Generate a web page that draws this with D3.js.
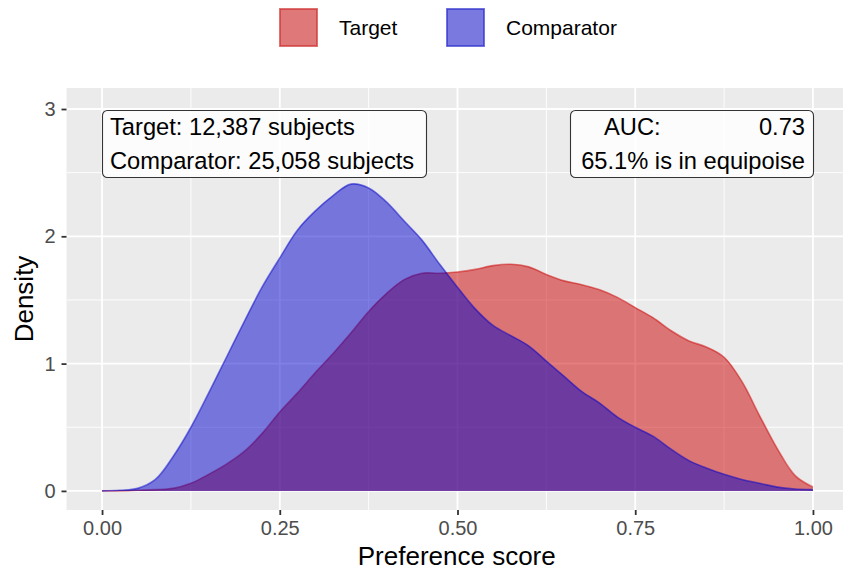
<!DOCTYPE html>
<html>
<head>
<meta charset="utf-8">
<script src="https://cdn.jsdelivr.net/npm/d3@7"></script>
<style>
  html, body { margin: 0; padding: 0; background: #ffffff; }
  svg text { font-family: "Liberation Sans", Arial, Helvetica, sans-serif; }
</style>
</head>
<body>
<svg id="chart" width="843" height="571"></svg>
<script>
// ---------------- data ----------------
const preferenceScores = [0.000,0.025,0.050,0.075,0.100,0.125,0.150,0.175,0.200,0.225,
  0.250,0.275,0.300,0.325,0.350,0.375,0.400,0.425,0.450,0.475,
  0.500,0.525,0.550,0.575,0.600,0.625,0.650,0.675,0.700,0.725,
  0.750,0.775,0.800,0.825,0.850,0.875,0.900,0.925,0.950,0.975,1.000];
const targetDensity = [0.00,0.00,0.005,0.01,0.02,0.06,0.13,0.21,0.31,0.45,
  0.62,0.77,0.93,1.08,1.24,1.41,1.55,1.66,1.71,1.71,
  1.72,1.74,1.77,1.78,1.76,1.70,1.65,1.62,1.58,1.52,
  1.44,1.36,1.26,1.18,1.13,1.05,0.86,0.59,0.33,0.12,0.03];
const comparatorDensity = [0.00,0.005,0.02,0.09,0.27,0.50,0.77,1.05,1.33,1.60,
  1.83,2.05,2.20,2.32,2.41,2.38,2.27,2.12,1.97,1.78,
  1.60,1.43,1.30,1.22,1.14,1.02,0.90,0.78,0.69,0.58,
  0.50,0.43,0.33,0.24,0.18,0.13,0.09,0.06,0.03,0.015,0.01];
const seriesNames = ["Target", "Comparator"];
const xTicks = [0, 0.25, 0.5, 0.75, 1.0];
const xTickLabels = ["0.00", "0.25", "0.50", "0.75", "1.00"];
const yTicks = [0, 1, 2, 3];
const xMinor = [0.125, 0.375, 0.625, 0.875];
const yMinor = [0.5, 1.5, 2.5];
const leftLabelLines = ["Target: 12,387 subjects", "Comparator: 25,058 subjects"];
const aucLabel = "AUC:";
const aucValue = "0.73";
const equipoiseLine = "65.1% is in equipoise";

// ---------------- layout ----------------
const svg = d3.select("#chart");
const panel = { left: 66.5, right: 848.5, top: 88, bottom: 510 };
const x = d3.scaleLinear().domain([-0.05, 1.05]).range([panel.left, panel.right]);
const y = d3.scaleLinear().domain([-0.15, 3.165]).range([panel.bottom, panel.top]);

const fills = ["rgba(204,0,0,0.5)", "rgba(0,0,204,0.5)"];

// panel background
svg.append("rect")
  .attr("x", panel.left).attr("y", panel.top)
  .attr("width", panel.right - panel.left).attr("height", panel.bottom - panel.top)
  .attr("fill", "#EBEBEB");

// grid
const grid = svg.append("g");
grid.selectAll(".xminor").data(xMinor).join("line")
  .attr("x1", d => x(d)).attr("x2", d => x(d))
  .attr("y1", panel.top).attr("y2", panel.bottom)
  .attr("stroke", "#ffffff").attr("stroke-width", 0.9);
grid.selectAll(".yminor").data(yMinor).join("line")
  .attr("y1", d => y(d)).attr("y2", d => y(d))
  .attr("x1", panel.left).attr("x2", panel.right)
  .attr("stroke", "#ffffff").attr("stroke-width", 0.9);
grid.selectAll(".xmajor").data(xTicks).join("line")
  .attr("x1", d => x(d)).attr("x2", d => x(d))
  .attr("y1", panel.top).attr("y2", panel.bottom)
  .attr("stroke", "#ffffff").attr("stroke-width", 1.8);
grid.selectAll(".ymajor").data(yTicks).join("line")
  .attr("y1", d => y(d)).attr("y2", d => y(d))
  .attr("x1", panel.left).attr("x2", panel.right)
  .attr("stroke", "#ffffff").attr("stroke-width", 1.8);

// densities
const seriesData = [targetDensity, comparatorDensity].map(vals =>
  preferenceScores.map((p, i) => ({ p: p, d: vals[i] })));

const curve = d3.curveCatmullRom.alpha(0.5);
const area = d3.area()
  .x(d => x(d.p)).y0(y(0)).y1(d => y(Math.max(0, d.d)))
  .curve(curve);
const line = d3.line()
  .x(d => x(d.p)).y(d => y(d.d))
  .curve(curve);

seriesData.forEach((s, i) => {
  svg.append("path").datum(s).attr("d", area)
    .attr("fill", fills[i]).attr("stroke", "none");
  svg.append("path").datum(s).attr("d", line)
    .attr("fill", "none").attr("stroke", fills[i]).attr("stroke-width", 1.6);
});

// axes
const xAxis = d3.axisBottom(x).tickValues(xTicks)
  .tickFormat((d, i) => xTickLabels[i]).tickSize(5).tickPadding(6);
const gx = svg.append("g").attr("transform", `translate(0,${panel.bottom})`).call(xAxis);
gx.select(".domain").remove();
gx.selectAll(".tick line").attr("stroke", "#333333").attr("stroke-width", 1.8);
gx.selectAll(".tick text").attr("fill", "#4D4D4D").style("font-size", "20px")
  .style("font-family", "'Liberation Sans', Arial, sans-serif");

const yAxis = d3.axisLeft(y).tickValues(yTicks).tickFormat(d3.format("d")).tickSize(5).tickPadding(6);
const gy = svg.append("g").attr("transform", `translate(${panel.left},0)`).call(yAxis);
gy.select(".domain").remove();
gy.selectAll(".tick line").attr("stroke", "#333333").attr("stroke-width", 1.8);
gy.selectAll(".tick text").attr("fill", "#4D4D4D").style("font-size", "20px")
  .style("font-family", "'Liberation Sans', Arial, sans-serif");

// axis titles
svg.append("text")
  .attr("x", (panel.left + 843) / 2 + 2).attr("y", 565)
  .attr("text-anchor", "middle").attr("fill", "#000")
  .style("font-size", "26px").text("Preference score");
svg.append("text")
  .attr("transform", `translate(33,${(panel.top + panel.bottom) / 2}) rotate(-90)`)
  .attr("text-anchor", "middle").attr("fill", "#000")
  .style("font-size", "26px").text("Density");

// annotation labels
function labelBox(x0, y0, w, h) {
  svg.append("rect")
    .attr("x", x0).attr("y", y0).attr("width", w).attr("height", h)
    .attr("rx", 5).attr("ry", 5)
    .attr("fill", "rgba(255,255,255,0.85)")
    .attr("stroke", "#333333").attr("stroke-width", 1.1);
}
labelBox(102.5, 110.5, 324, 67);
svg.append("text").attr("x", 110).attr("y", 135).style("font-size", "23.7px")
  .attr("fill", "#000").text(leftLabelLines[0]);
svg.append("text").attr("x", 110).attr("y", 169).style("font-size", "23.7px")
  .attr("fill", "#000").text(leftLabelLines[1]);

labelBox(570.5, 110.5, 243, 67);
svg.append("text").attr("x", 604).attr("y", 135).style("font-size", "23.7px")
  .attr("fill", "#000").text(aucLabel);
svg.append("text").attr("x", 805).attr("y", 135).attr("text-anchor", "end")
  .style("font-size", "23.7px").attr("fill", "#000").text(aucValue);
svg.append("text").attr("x", 805).attr("y", 169).attr("text-anchor", "end")
  .style("font-size", "23.7px").attr("fill", "#000").text(equipoiseLine);

// legend
const legendItems = [
  { name: seriesNames[0], keyX: 279, textX: 339 },
  { name: seriesNames[1], keyX: 446, textX: 506 }
];
legendItems.forEach((it, i) => {
  svg.append("rect").attr("x", it.keyX).attr("y", 8).attr("width", 39).attr("height", 39)
    .attr("fill", "#F2F2F2");
  svg.append("rect").attr("x", it.keyX + 0.9).attr("y", 8.9).attr("width", 37.2).attr("height", 37.2)
    .attr("fill", fills[i]).attr("stroke", fills[i]).attr("stroke-width", 1.8);
  svg.append("text").attr("x", it.textX).attr("y", 35)
    .style("font-size", "21px").attr("fill", "#000").text(it.name);
});
</script>
</body>
</html>
